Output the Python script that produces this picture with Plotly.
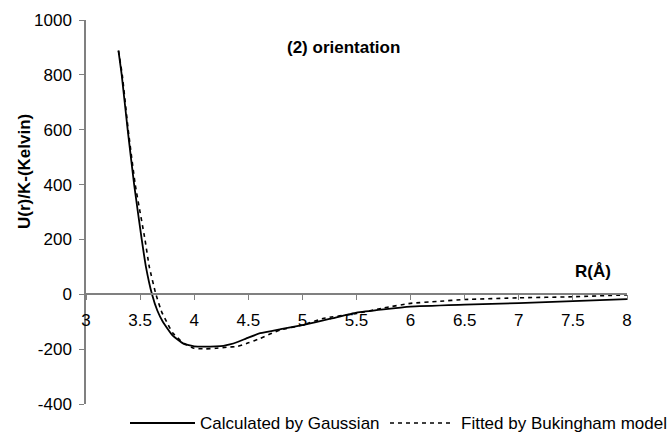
import plotly.graph_objects as go

# Calculated by Gaussian (solid)
calc_x = [3.30, 3.33, 3.385, 3.445, 3.515, 3.554, 3.61, 3.66, 3.71, 3.80, 3.90, 4.00, 4.10, 4.20, 4.27, 4.33,
          4.40, 4.50, 4.61, 4.80, 5.00, 5.25, 5.50, 5.75, 6.00, 6.50, 7.00, 7.50, 8.00]
calc_y = [888, 800, 600, 400, 200, 100, 0, -60, -100, -150, -180, -190, -191, -190, -188, -183,
          -174, -158, -142, -127, -112, -90, -67, -55, -45, -38, -32, -25, -18]

# Fitted by Bukingham model (dashed)
fit_x = [3.30, 3.335, 3.39, 3.455, 3.545, 3.585, 3.646, 3.70, 3.745, 3.80, 3.90, 4.00, 4.10, 4.20, 4.30,
         4.40, 4.50, 4.61, 4.70, 4.80, 5.00, 5.19, 5.50, 5.75, 6.00, 6.25, 6.50, 7.00, 7.50, 8.00]
fit_y = [888, 800, 600, 400, 200, 100, 0, -65, -100, -140, -178, -197, -199, -197, -193,
         -190, -177, -161, -145, -130, -112, -88, -70, -50, -33, -26, -19, -13, -9, -2]

series_names = ["Calculated by Gaussian", "Fitted by Bukingham model"]

x_ticks = [3, 3.5, 4, 4.5, 5, 5.5, 6, 6.5, 7, 7.5, 8]
x_labels = ["3", "3.5", "4", "4.5", "5", "5.5", "6", "6.5", "7", "7.5", "8"]
y_ticks = [-400, -200, 0, 200, 400, 600, 800, 1000]
y_labels = ["-400", "-200", "0", "200", "400", "600", "800", "1000"]

FONT = "Liberation Sans, Arial, sans-serif"
AX = "#808080"
DASH = "4px,4px"

L, R, T, B = 86, 41, 20, 32
W, H = 668, 436
PW, PH = W - L - R, H - T - B


def px(xp):
    return (xp - L) / PW


def py(yp):
    return 1 - (yp - T) / PH


fig = go.Figure()
fig.add_trace(go.Scatter(x=calc_x, y=calc_y, mode="lines", name=series_names[0],
                         line=dict(color="black", width=1.8, shape="spline", smoothing=0.4)))
fig.add_trace(go.Scatter(x=fit_x, y=fit_y, mode="lines", name=series_names[1],
                         line=dict(color="black", width=1.6, dash=DASH, shape="spline", smoothing=0.4)))

ymin, ymax = -400, 1000
leg_y = py(423)
fig.update_layout(
    width=W, height=H,
    margin=dict(l=L, r=R, t=T, b=B, autoexpand=False),
    paper_bgcolor="white", plot_bgcolor="white",
    font=dict(family=FONT, size=17, color="black"),
    showlegend=False,
    xaxis=dict(range=[3, 8], tickvals=x_ticks, ticktext=x_labels, showgrid=False, zeroline=False,
               showline=True, linecolor=AX, linewidth=1.5, ticks="outside", ticklen=5, tickcolor=AX,
               anchor="free", position=(0 - ymin) / (ymax - ymin), ticklabelstandoff=6),
    yaxis=dict(range=[ymin, ymax], tickvals=y_ticks, ticktext=y_labels, showgrid=False, zeroline=False,
               showline=True, linecolor=AX, linewidth=1.5, ticks="outside", ticklen=5, tickcolor=AX,
               ticklabelstandoff=4),
    shapes=[
        dict(type="line", xref="paper", yref="paper", x0=px(130), x1=px(195), y0=leg_y, y1=leg_y,
             line=dict(color="black", width=1.8)),
        dict(type="line", xref="paper", yref="paper", x0=px(390), x1=px(453), y0=leg_y, y1=leg_y,
             line=dict(color="black", width=1.6, dash=DASH)),
    ],
    annotations=[
        dict(text="<b>(2) orientation</b>", xref="paper", yref="paper", x=px(343),
             y=py(47), xanchor="center", yanchor="middle", showarrow=False, font=dict(size=17)),
        dict(text="<b>U(r)/K-(Kelvin)</b>", xref="paper", yref="paper", x=px(25),
             y=py(172), xanchor="center", yanchor="middle", showarrow=False,
             textangle=-90, font=dict(size=17)),
        dict(text="<b>R(Å)</b>", xref="paper", yref="paper", x=px(593),
             y=py(271), xanchor="center", yanchor="middle", showarrow=False, font=dict(size=17)),
        dict(text=series_names[0], xref="paper", yref="paper", x=px(198), y=leg_y,
             xanchor="left", yanchor="middle", showarrow=False, font=dict(size=17)),
        dict(text=series_names[1], xref="paper", yref="paper", x=px(459), y=leg_y,
             xanchor="left", yanchor="middle", showarrow=False, font=dict(size=17)),
    ],
)

fig.write_html("out.html")
